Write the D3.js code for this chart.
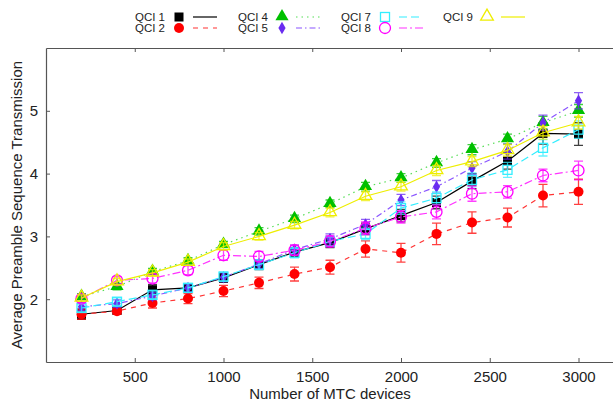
<!DOCTYPE html>
<html>
<head>
<meta charset="utf-8">
<script src="https://cdn.jsdelivr.net/npm/d3@7"></script>
<style>
  body { margin: 0; background: #fff; }
  text { font-family: "Liberation Sans", Arial, sans-serif; }
</style>
</head>
<body>
<svg></svg>
<script>
const devices = [200, 400, 600, 800, 1000, 1200, 1400, 1600, 1800, 2000, 2200, 2400, 2600, 2800, 3000];
const xTicks = [500, 1000, 1500, 2000, 2500, 3000];
const yTicks = [2, 3, 4, 5];

const qci1 = [1.76, 1.82, 2.15, 2.18, 2.34, 2.55, 2.75, 2.90, 3.12, 3.33, 3.54, 3.88, 4.20, 4.64, 4.63];
const qci2 = [1.76, 1.81, 1.94, 2.01, 2.13, 2.26, 2.40, 2.51, 2.80, 2.74, 3.04, 3.22, 3.30, 3.65, 3.71];
const qci4 = [2.04, 2.20, 2.44, 2.61, 2.87, 3.08, 3.28, 3.52, 3.79, 3.93, 4.17, 4.38, 4.55, 4.81, 5.00];
const qci5 = [1.88, 1.93, 2.05, 2.18, 2.35, 2.56, 2.79, 2.96, 3.19, 3.58, 3.79, 4.09, 4.35, 4.81, 5.16];
const qci7 = [1.86, 1.96, 2.07, 2.18, 2.36, 2.55, 2.74, 2.92, 3.04, 3.45, 3.61, 3.90, 4.06, 4.41, 4.70];
const qci8 = [2.01, 2.30, 2.33, 2.46, 2.70, 2.68, 2.78, 2.92, 3.13, 3.31, 3.39, 3.68, 3.71, 3.97, 4.05];
const qci9 = [2.02, 2.28, 2.42, 2.59, 2.84, 3.00, 3.18, 3.38, 3.64, 3.79, 4.05, 4.19, 4.37, 4.65, 4.81];

// half-length of the error bars
const err1 = [0.08, 0.05, 0.08, 0.06, 0.07, 0.08, 0.07, 0.08, 0.09, 0.10, 0.10, 0.12, 0.13, 0.17, 0.18];
const err2 = [0.08, 0.05, 0.08, 0.08, 0.09, 0.09, 0.11, 0.11, 0.13, 0.15, 0.17, 0.17, 0.15, 0.18, 0.20];
const err4 = [0.05, 0.05, 0.05, 0.05, 0.05, 0.06, 0.06, 0.06, 0.07, 0.07, 0.07, 0.08, 0.08, 0.10, 0.10];
const err5 = [0.06, 0.06, 0.06, 0.06, 0.07, 0.07, 0.07, 0.08, 0.08, 0.09, 0.10, 0.10, 0.12, 0.12, 0.13];
const err7 = [0.06, 0.06, 0.06, 0.07, 0.07, 0.08, 0.08, 0.08, 0.09, 0.10, 0.10, 0.11, 0.12, 0.13, 0.14];
const err8 = [0.06, 0.06, 0.07, 0.07, 0.08, 0.08, 0.08, 0.09, 0.10, 0.10, 0.11, 0.12, 0.10, 0.10, 0.15];
const err9 = [0.05, 0.05, 0.05, 0.05, 0.06, 0.06, 0.06, 0.07, 0.07, 0.07, 0.08, 0.08, 0.09, 0.10, 0.10];

const WIDTH = 613,
      HEIGHT = 402,
      MARGINS = { top: 48, right: 0, bottom: 40, left: 46 };

const series = [
  { name: 'QCI 1', vals: qci1, err: err1, color: '#000000', line: '#000000', dash: null,          shape: 'square',   fill: true,  col: 0, row: 0 },
  { name: 'QCI 2', vals: qci2, err: err2, color: '#ff0000', line: '#ff3333', dash: '5,5',         shape: 'circle',   fill: true,  col: 0, row: 1 },
  { name: 'QCI 4', vals: qci4, err: err4, color: '#00c000', line: '#55dd55', dash: '1.5,4',       shape: 'triangle', fill: true,  col: 1, row: 0 },
  { name: 'QCI 5', vals: qci5, err: err5, color: '#6a2cf0', line: '#8a55ff', dash: '6,3,1.5,3',   shape: 'diamond',  fill: true,  col: 1, row: 1 },
  { name: 'QCI 7', vals: qci7, err: err7, color: '#33eeff', line: '#33eeff', dash: '8,4',         shape: 'square',   fill: false, col: 2, row: 0 },
  { name: 'QCI 8', vals: qci8, err: err8, color: '#ff00ff', line: '#ff33ff', dash: '8,3,2,3',     shape: 'circle',   fill: false, col: 2, row: 1 },
  { name: 'QCI 9', vals: qci9, err: err9, color: '#eeee00', line: '#eeee00', dash: null,          shape: 'triangle', fill: false, col: 3, row: 0 }
];

let svg = d3.select('svg')
  .attr('width', WIDTH)
  .attr('height', HEIGHT);

const x = d3.scaleLinear().domain([0, 3200]).range([MARGINS.left, 614]);
const y = d3.scaleLinear().domain([1, 6]).range([HEIGHT - MARGINS.bottom, MARGINS.top]);

// axes, gnuplot style: inward ticks, mirrored on top
const axisCol = '#555';
const xAxisB = svg.append('g')
  .attr('transform', 'translate(0,' + y(1) + ')')
  .call(d3.axisBottom(x).tickValues(xTicks).tickFormat(d3.format('d'))
    .tickSize(-4).tickPadding(9).tickSizeOuter(0));
const xAxisT = svg.append('g')
  .attr('transform', 'translate(0,' + y(6) + ')')
  .call(d3.axisTop(x).tickValues(xTicks).tickSize(-4).tickFormat('').tickSizeOuter(0));
const yAxisL = svg.append('g')
  .attr('transform', 'translate(' + MARGINS.left + ',0)')
  .call(d3.axisLeft(y).tickValues(yTicks).tickFormat(d3.format('d'))
    .tickSize(-4).tickPadding(8).tickSizeOuter(0));

[xAxisB, xAxisT, yAxisL].forEach(a => {
  a.select('.domain').attr('stroke', axisCol).attr('stroke-width', 1.2);
  a.selectAll('.tick line').attr('stroke', axisCol);
  a.selectAll('.tick text')
    .attr('font-size', 15)
    .attr('fill', '#222')
    .style('font-family', '"Liberation Sans", Arial, sans-serif');
});

svg.append('text')
  .attr('x', 330)
  .attr('y', 399)
  .attr('text-anchor', 'middle')
  .attr('font-size', 15)
  .attr('fill', '#222')
  .text('Number of MTC devices');

svg.append('text')
  .attr('transform', 'translate(22,205) rotate(-90)')
  .attr('text-anchor', 'middle')
  .attr('font-size', 15)
  .attr('fill', '#222')
  .text('Average Preamble Sequence Transmission');

function marker(g, s, cx, cy) {
  const stroke = s.color, fill = s.fill ? s.color : 'none';
  if (s.shape === 'square') {
    g.append('rect').attr('x', cx - 4.5).attr('y', cy - 4.5).attr('width', 9).attr('height', 9)
      .attr('fill', fill).attr('stroke', stroke).attr('stroke-width', s.fill ? 0 : 1.3);
  } else if (s.shape === 'circle') {
    g.append('circle').attr('cx', cx).attr('cy', cy).attr('r', s.fill ? 5 : 5.5)
      .attr('fill', fill).attr('stroke', stroke).attr('stroke-width', s.fill ? 0 : 1.3);
  } else if (s.shape === 'triangle') {
    g.append('path')
      .attr('d', d3.symbol().type(d3.symbolTriangle).size(s.fill ? 75 : 70)())
      .attr('transform', 'translate(' + cx + ',' + (cy - 0.5) + ')')
      .attr('fill', fill).attr('stroke', stroke).attr('stroke-width', s.fill ? 0 : 1.3);
  } else if (s.shape === 'diamond') {
    g.append('path')
      .attr('d', d3.symbol().type(d3.symbolDiamond).size(45)())
      .attr('transform', 'translate(' + cx + ',' + cy + ')')
      .attr('fill', fill);
  }
}

const line = d3.line()
  .x((d, i) => x(devices[i]))
  .y(d => y(d));

series.forEach(s => {
  const g = svg.append('g');
  // error bars
  s.vals.forEach((v, i) => {
    const cx = x(devices[i]), lo = y(v - s.err[i]), hi = y(v + s.err[i]);
    g.append('path')
      .attr('d', `M${cx},${lo}V${hi}M${cx - 4.5},${lo}H${cx + 4.5}M${cx - 4.5},${hi}H${cx + 4.5}`)
      .attr('fill', 'none')
      .attr('stroke', s.color)
      .attr('stroke-opacity', 0.75)
      .attr('stroke-width', 1.3);
  });
  g.append('path')
    .datum(s.vals)
    .attr('fill', 'none')
    .attr('stroke', s.line)
    .attr('stroke-width', 1.2)
    .attr('stroke-dasharray', s.dash)
    .attr('d', line);
  s.vals.forEach((v, i) => marker(g, s, x(devices[i]), y(v)));
});

// legend
const colX = [165, 268, 371, 473];
const rowY = [17, 28];
series.forEach(s => {
  const lx = colX[s.col], ly = rowY[s.row];
  const g = svg.append('g');
  g.append('text')
    .attr('x', lx)
    .attr('y', ly + 4)
    .attr('text-anchor', 'end')
    .attr('font-size', 11.5)
    .attr('fill', '#222')
    .text(s.name);
  marker(g, s, lx + 14, ly);
  g.append('line')
    .attr('x1', lx + 28).attr('x2', lx + 52)
    .attr('y1', ly).attr('y2', ly)
    .attr('stroke', s.line)
    .attr('stroke-width', 1.2)
    .attr('stroke-dasharray', s.dash);
});
</script>
</body>
</html>
